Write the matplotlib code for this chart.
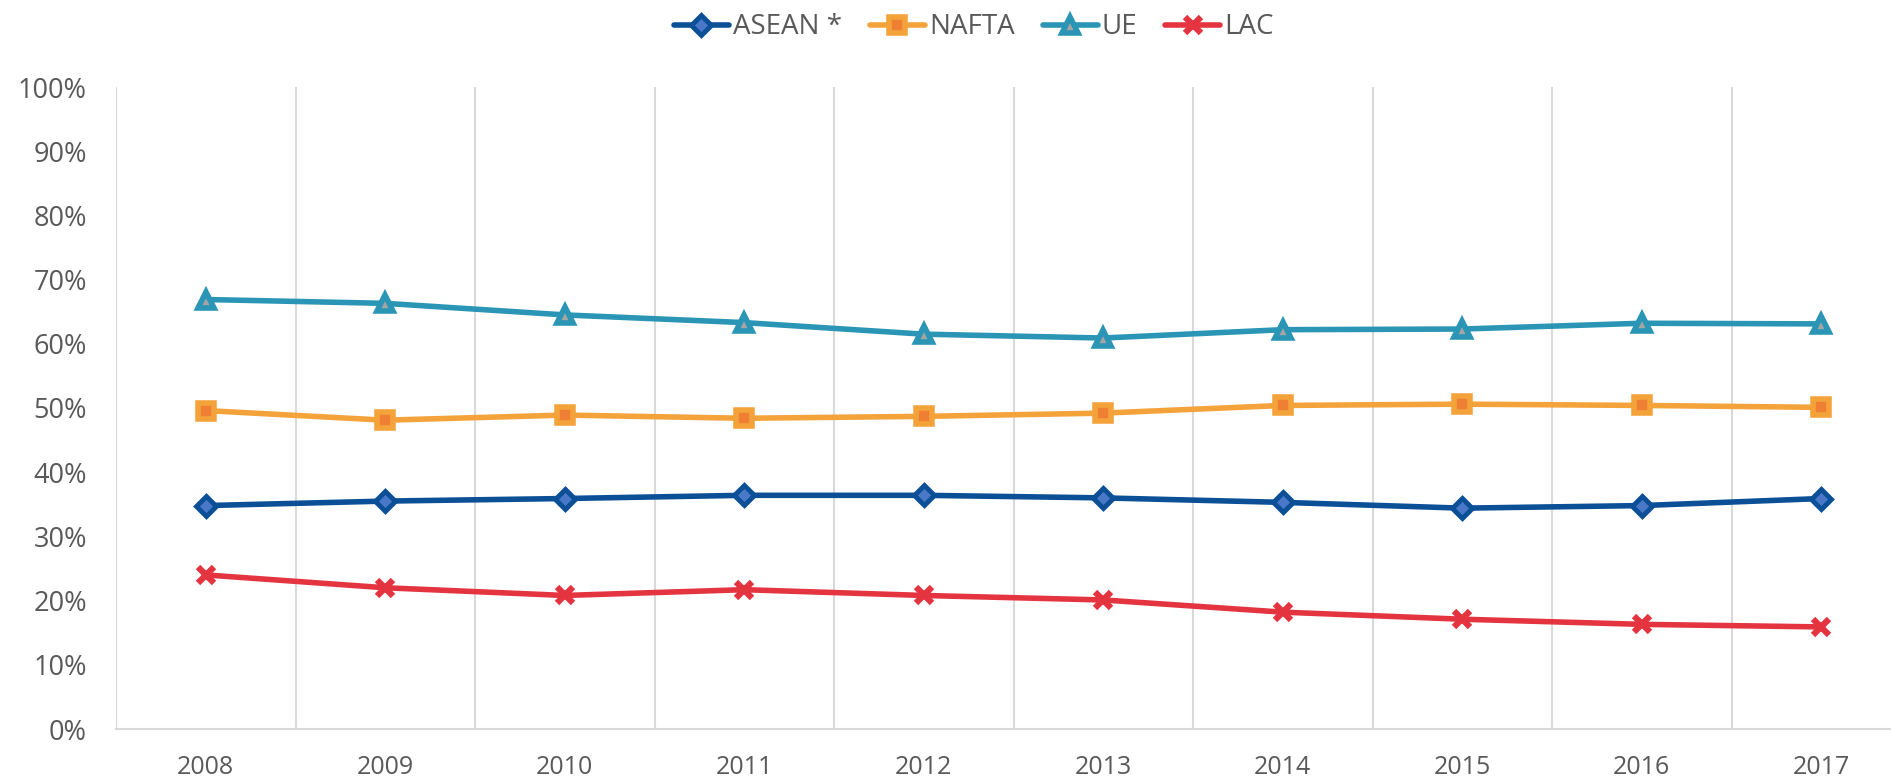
import matplotlib
matplotlib.use("Agg")
import matplotlib.pyplot as plt
from matplotlib.ticker import FuncFormatter

years = ["2008", "2009", "2010", "2011", "2012", "2013", "2014", "2015", "2016", "2017"]
asean = [34.8, 35.5, 35.9, 36.4, 36.4, 36.0, 35.3, 34.4, 34.8, 35.9]
nafta = [49.6, 48.1, 48.9, 48.4, 48.7, 49.2, 50.4, 50.6, 50.4, 50.1]
ue = [66.9, 66.3, 64.5, 63.3, 61.5, 60.9, 62.2, 62.3, 63.2, 63.1]
lac = [24.0, 22.0, 20.8, 21.7, 20.8, 20.1, 18.2, 17.1, 16.3, 15.9]

series = [
    ("ASEAN *", asean, dict(color="#0B4F97", marker="D", ms=10, mfc="#4A78C8", mec="#0B4F97", mew=3.5)),
    ("NAFTA", nafta, dict(color="#F4A33B", marker="s", ms=12, mfc="#EE7F33", mec="#F4A33B", mew=4)),
    ("UE", ue, dict(color="#2A95B5", marker="^", ms=12, mfc="#A5A5A5", mec="#2A95B5", mew=4)),
    ("LAC", lac, dict(color="#E4343F", marker="x", ms=11, mec="#E4343F", mew=4.5)),
]

W, H = 1891, 779
fig = plt.figure(figsize=(W / 100, H / 100), dpi=100)
left, right, bottom, top = 116 / W, 1911 / W, 1 - 729 / H, 1 - 87 / H
ax = fig.add_axes([left, bottom, right - left, top - bottom])

x = list(range(len(years)))
handles = []
for name, vals, st in series:
    (h,) = ax.plot(x, vals, lw=4, label=name, solid_capstyle="round",
                   solid_joinstyle="round", zorder=3, **st)
    handles.append(h)

ax.set_xlim(-0.5, len(years) - 0.5)
ax.set_ylim(0, 100)
ax.set_yticks(range(0, 101, 10))
ax.yaxis.set_major_formatter(FuncFormatter(lambda v, p: f"{int(v)}%"))
ax.set_xticks(x)
ax.set_xticklabels(years)

for xb in [i + 0.5 for i in range(-1, len(years))]:
    ax.axvline(xb, color="#D9D9D9", lw=1.5, zorder=1)

for s in ["top", "right", "left"]:
    ax.spines[s].set_visible(False)
ax.spines["bottom"].set_color("#D9D9D9")
ax.spines["bottom"].set_linewidth(1.5)

ax.tick_params(axis="both", length=0, colors="#595959")
ax.tick_params(axis="y", pad=21, labelsize=19.5)
ax.tick_params(axis="x", pad=19, labelsize=18)
for lbl in ax.get_yticklabels():
    lbl.set_fontfamily("Open Sans")
for lbl in ax.get_xticklabels():
    lbl.set_fontfamily("Open Sans")

leg = fig.legend(handles=handles, loc="center", bbox_to_anchor=(0.515, 0.965),
                 ncol=4, frameon=False, handlelength=1.98,
                 columnspacing=1.0, handletextpad=0.15,
                 prop={"family": "Open Sans", "size": 20})
for t in leg.get_texts():
    t.set_color("#595959")

fig.savefig("out.png", dpi=100)
